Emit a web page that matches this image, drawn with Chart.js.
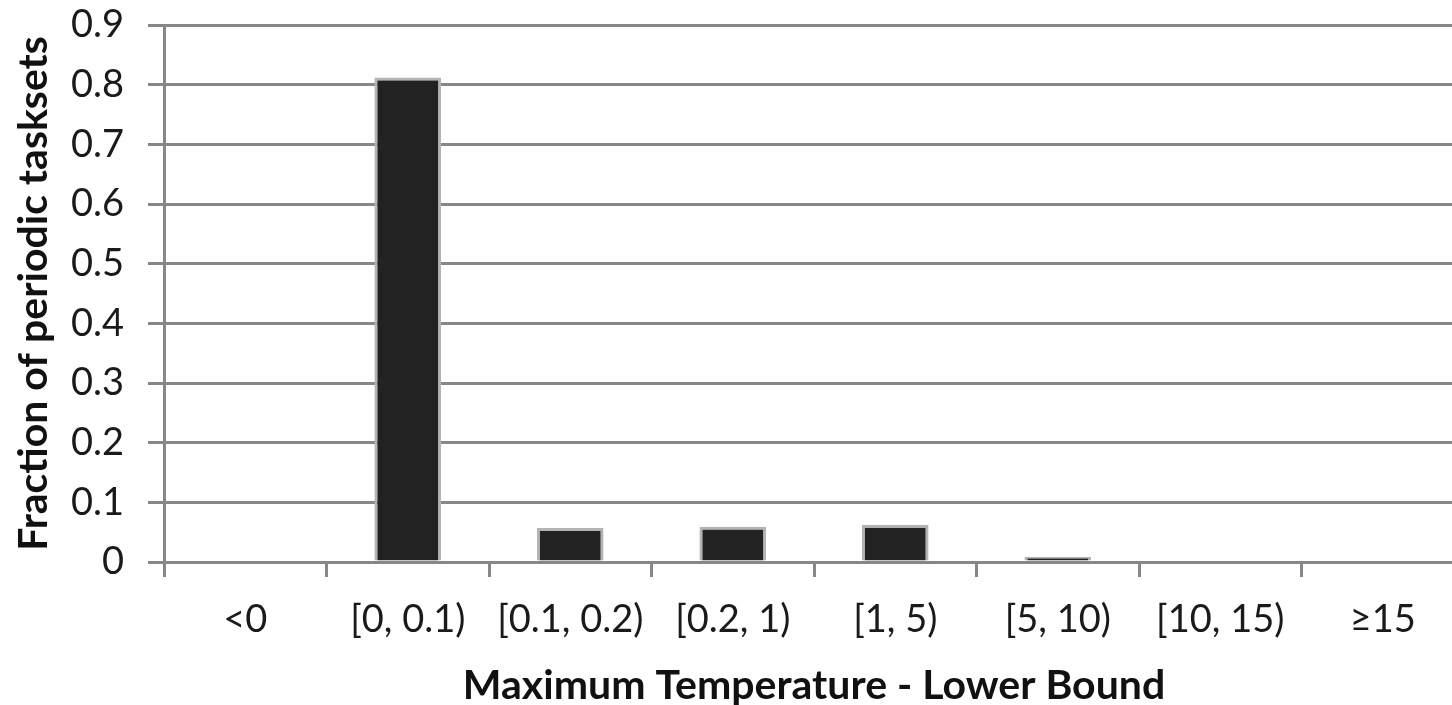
<!DOCTYPE html>
<html>
<head>
<meta charset="utf-8">
<script src="https://cdn.jsdelivr.net/npm/chart.js@4"></script>
<style>
  html, body { margin: 0; padding: 0; background: #fff; overflow: hidden; }
  #wrap { width: 1464px; height: 705px; }
</style>
</head>
<body>
<div id="wrap"><canvas id="tempChart" width="1464" height="705"></canvas></div>
<script>
var categories = ['<0', '[0, 0.1)', '[0.1, 0.2)', '[0.2, 1)', '[1, 5)', '[5, 10)', '[10, 15)', '\u226515'];
var fractions = [0, 0.812, 0.057, 0.059, 0.062, 0.009, 0, 0];
var yTicks = [0, 0.1, 0.2, 0.3, 0.4, 0.5, 0.6, 0.7, 0.8, 0.9];

var fontFamily = 'Lato, "Open Sans", sans-serif';
var gridGray = '#878787';

document.addEventListener('DOMContentLoaded', function () {
    var ctx = document.getElementById('tempChart').getContext('2d');
    new Chart(ctx, {
        type: 'bar',
        data: {
            labels: categories,
            datasets: [{
                data: fractions,
                backgroundColor: '#222222',
                borderColor: '#b3b3b3',
                borderWidth: 3,
                barPercentage: 0.41,
                categoryPercentage: 1.0
            }]
        },
        options: {
            responsive: false,
            animation: false,
            layout: { padding: { top: 25, right: 0, left: 0, bottom: 0 } },
            plugins: {
                legend: { display: false },
                tooltip: { enabled: false }
            },
            scales: {
                x: {
                    offset: true,
                    grid: {
                        offset: true,
                        drawOnChartArea: false,
                        drawTicks: true,
                        tickLength: 15,
                        color: gridGray,
                        lineWidth: 3
                    },
                    border: { color: gridGray, width: 3 },
                    ticks: {
                        color: '#1a1a1a',
                        font: { family: fontFamily, size: 38 },
                        padding: 20,
                        maxRotation: 0,
                        autoSkip: false
                    },
                    title: {
                        display: true,
                        text: 'Maximum Temperature - Lower Bound',
                        color: '#111',
                        font: { family: fontFamily, size: 41, weight: 'bold' },
                        padding: { top: 0, bottom: -5 }
                    },
                    afterFit: function (scale) {
                        scale.height = 143;
                        scale.paddingLeft = 0;
                        scale.paddingRight = 0;
                    }
                },
                y: {
                    min: 0,
                    max: 0.9,
                    afterBuildTicks: function (scale) {
                        scale.ticks = yTicks.map(function (v) { return { value: v }; });
                    },
                    grid: {
                        color: gridGray,
                        lineWidth: 3,
                        tickLength: 16
                    },
                    border: { color: gridGray, width: 3 },
                    ticks: {
                        color: '#1a1a1a',
                        font: { family: fontFamily, size: 38 },
                        padding: 24,
                        callback: function (v) { return String(Math.round(v * 10) / 10); }
                    },
                    title: {
                        display: true,
                        text: 'Fraction of periodic tasksets',
                        color: '#111',
                        font: { family: fontFamily, size: 41, weight: 'bold' },
                        padding: { top: 9, bottom: 0 }
                    },
                    afterFit: function (scale) {
                        scale.width = 164;
                        scale.paddingTop = 0;
                        scale.paddingBottom = 0;
                    }
                }
            }
        }
    });
});
</script>
</body>
</html>
